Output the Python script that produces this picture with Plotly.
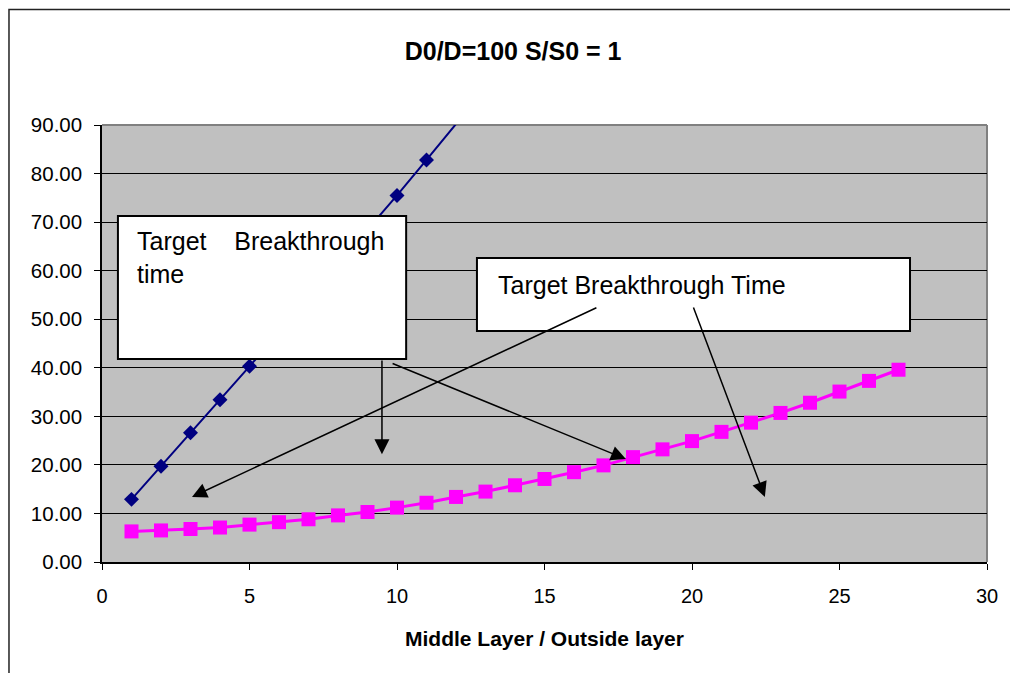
import plotly.graph_objects as go

# Ratio of middle layer to outside layer thickness
ratio_blue = [1, 2, 3, 4, 5, 6, 7, 8, 9, 10, 11, 12, 13]
time_blue = [12.9, 19.7, 26.6, 33.4, 40.3, 47.3, 54.3, 61.3, 68.4, 75.5, 82.8, 90.3, 97.6]

ratio_pink = list(range(1, 28))
time_pink = [6.3, 6.5, 6.8, 7.1, 7.7, 8.2, 8.8, 9.6, 10.3, 11.2, 12.2, 13.4, 14.5,
             15.8, 17.1, 18.5, 19.9, 21.6, 23.2, 24.9, 26.8, 28.7, 30.7, 32.8,
             35.1, 37.3, 39.6]

title_text = "D0/D=100 S/S0 = 1"
x_title = "Middle Layer / Outside layer"
note_left = "Target\u00a0\u00a0\u00a0 Breakthrough<br>time"
note_right = "Target Breakthrough Time"

FONT = "Liberation Sans, Arial, sans-serif"
Y_MAX = 90

fig = go.Figure()
# the line runs off the top of the value axis; markers only where in range
fig.add_trace(go.Scatter(
    x=ratio_blue, y=time_blue, mode="lines",
    line=dict(color="#000080", width=2), showlegend=False,
))
in_range = [(x, v) for x, v in zip(ratio_blue, time_blue) if v <= Y_MAX]
fig.add_trace(go.Scatter(
    x=[p[0] for p in in_range], y=[p[1] for p in in_range], mode="markers",
    marker=dict(symbol="diamond", size=11.5, color="#000080"),
    showlegend=False,
))
fig.add_trace(go.Scatter(
    x=ratio_pink, y=time_pink, mode="lines+markers",
    line=dict(color="#FF00FF", width=3),
    marker=dict(symbol="square", size=14, color="#FF00FF"),
    showlegend=False,
))

shapes = [
    # chart frame
    dict(type="rect", xref="paper", yref="paper", x0=-0.1051, x1=1.04, y0=-0.3, y1=1.2643,
         line=dict(color="#222222", width=1.5), fillcolor="rgba(0,0,0,0)", layer="below"),
    # plot area border (top and right)
    dict(type="line", xref="paper", yref="paper", x0=0, x1=1, y0=1, y1=1,
         line=dict(color="#808080", width=2), layer="between"),
    dict(type="line", xref="paper", yref="paper", x0=1, x1=1, y0=0, y1=1,
         line=dict(color="#808080", width=2), layer="between"),
    # text boxes
    dict(type="rect", xref="x", yref="y", x0=0.54, x1=10.31, y0=41.8, y1=71.25,
         line=dict(color="black", width=2), fillcolor="white", layer="above"),
    dict(type="rect", xref="x", yref="y", x0=12.71, x1=27.39, y0=47.6, y1=62.6,
         line=dict(color="black", width=2), fillcolor="white", layer="above"),
]

annotations = [
    dict(text=note_left, xref="x", yref="y", x=1.12, y=69.4, xanchor="left", yanchor="top",
         align="left", showarrow=False, font=dict(family=FONT, size=25, color="black")),
    dict(text=note_right, xref="x", yref="y", x=13.36, y=60.3, xanchor="left", yanchor="top",
         align="left", showarrow=False, font=dict(family=FONT, size=25, color="black")),
    dict(text=x_title, xref="paper", yref="paper", x=0.5, y=-0.176, xanchor="center",
         yanchor="middle", showarrow=False,
         font=dict(family=FONT, size=21, color="black", weight="bold")),
]

# arrows: (tip_x, tip_y, tail_x, tail_y)
arrows = [
    (9.49, 22.2, 9.49, 41.8),
    (17.76, 21.2, 9.80, 41.0),
    (22.47, 13.4, 20.03, 52.7),
    (3.05, 13.4, 16.81, 52.5),
]
for tx, ty, sx, sy in arrows:
    annotations.append(dict(
        x=tx, y=ty, ax=sx, ay=sy, xref="x", yref="y", axref="x", ayref="y",
        text="", showarrow=True, arrowhead=2, arrowsize=2, arrowwidth=1.5,
        arrowcolor="black", standoff=0,
    ))

fig.update_layout(
    width=1010, height=673,
    margin=dict(l=102, r=23, t=125, b=111),
    paper_bgcolor="white", plot_bgcolor="#C0C0C0",
    font=dict(family=FONT, color="black"),
    title=dict(text=title_text, x=0.508, xanchor="center", y=1 - 51 / 673, yanchor="middle",
               font=dict(family=FONT, size=25, color="black", weight="bold")),
    shapes=shapes, annotations=annotations,
    xaxis=dict(range=[0, 30], dtick=5, tick0=0, showgrid=False, zeroline=False,
               showline=True, linecolor="black", linewidth=1.5,
               ticks="outside", ticklen=6, tickcolor="black", tickwidth=1,
               ticklabelstandoff=9, tickfont=dict(size=20, family=FONT)),
    yaxis=dict(range=[0, Y_MAX], dtick=10, tick0=0, tickformat=".2f",
               showgrid=True, gridcolor="black", gridwidth=1, zeroline=False,
               showline=True, linecolor="black", linewidth=1.5,
               ticks="outside", ticklen=6, tickcolor="black", tickwidth=1,
               ticklabelstandoff=8, tickfont=dict(size=20.5, family=FONT)),
)

fig.write_html("out.html")
